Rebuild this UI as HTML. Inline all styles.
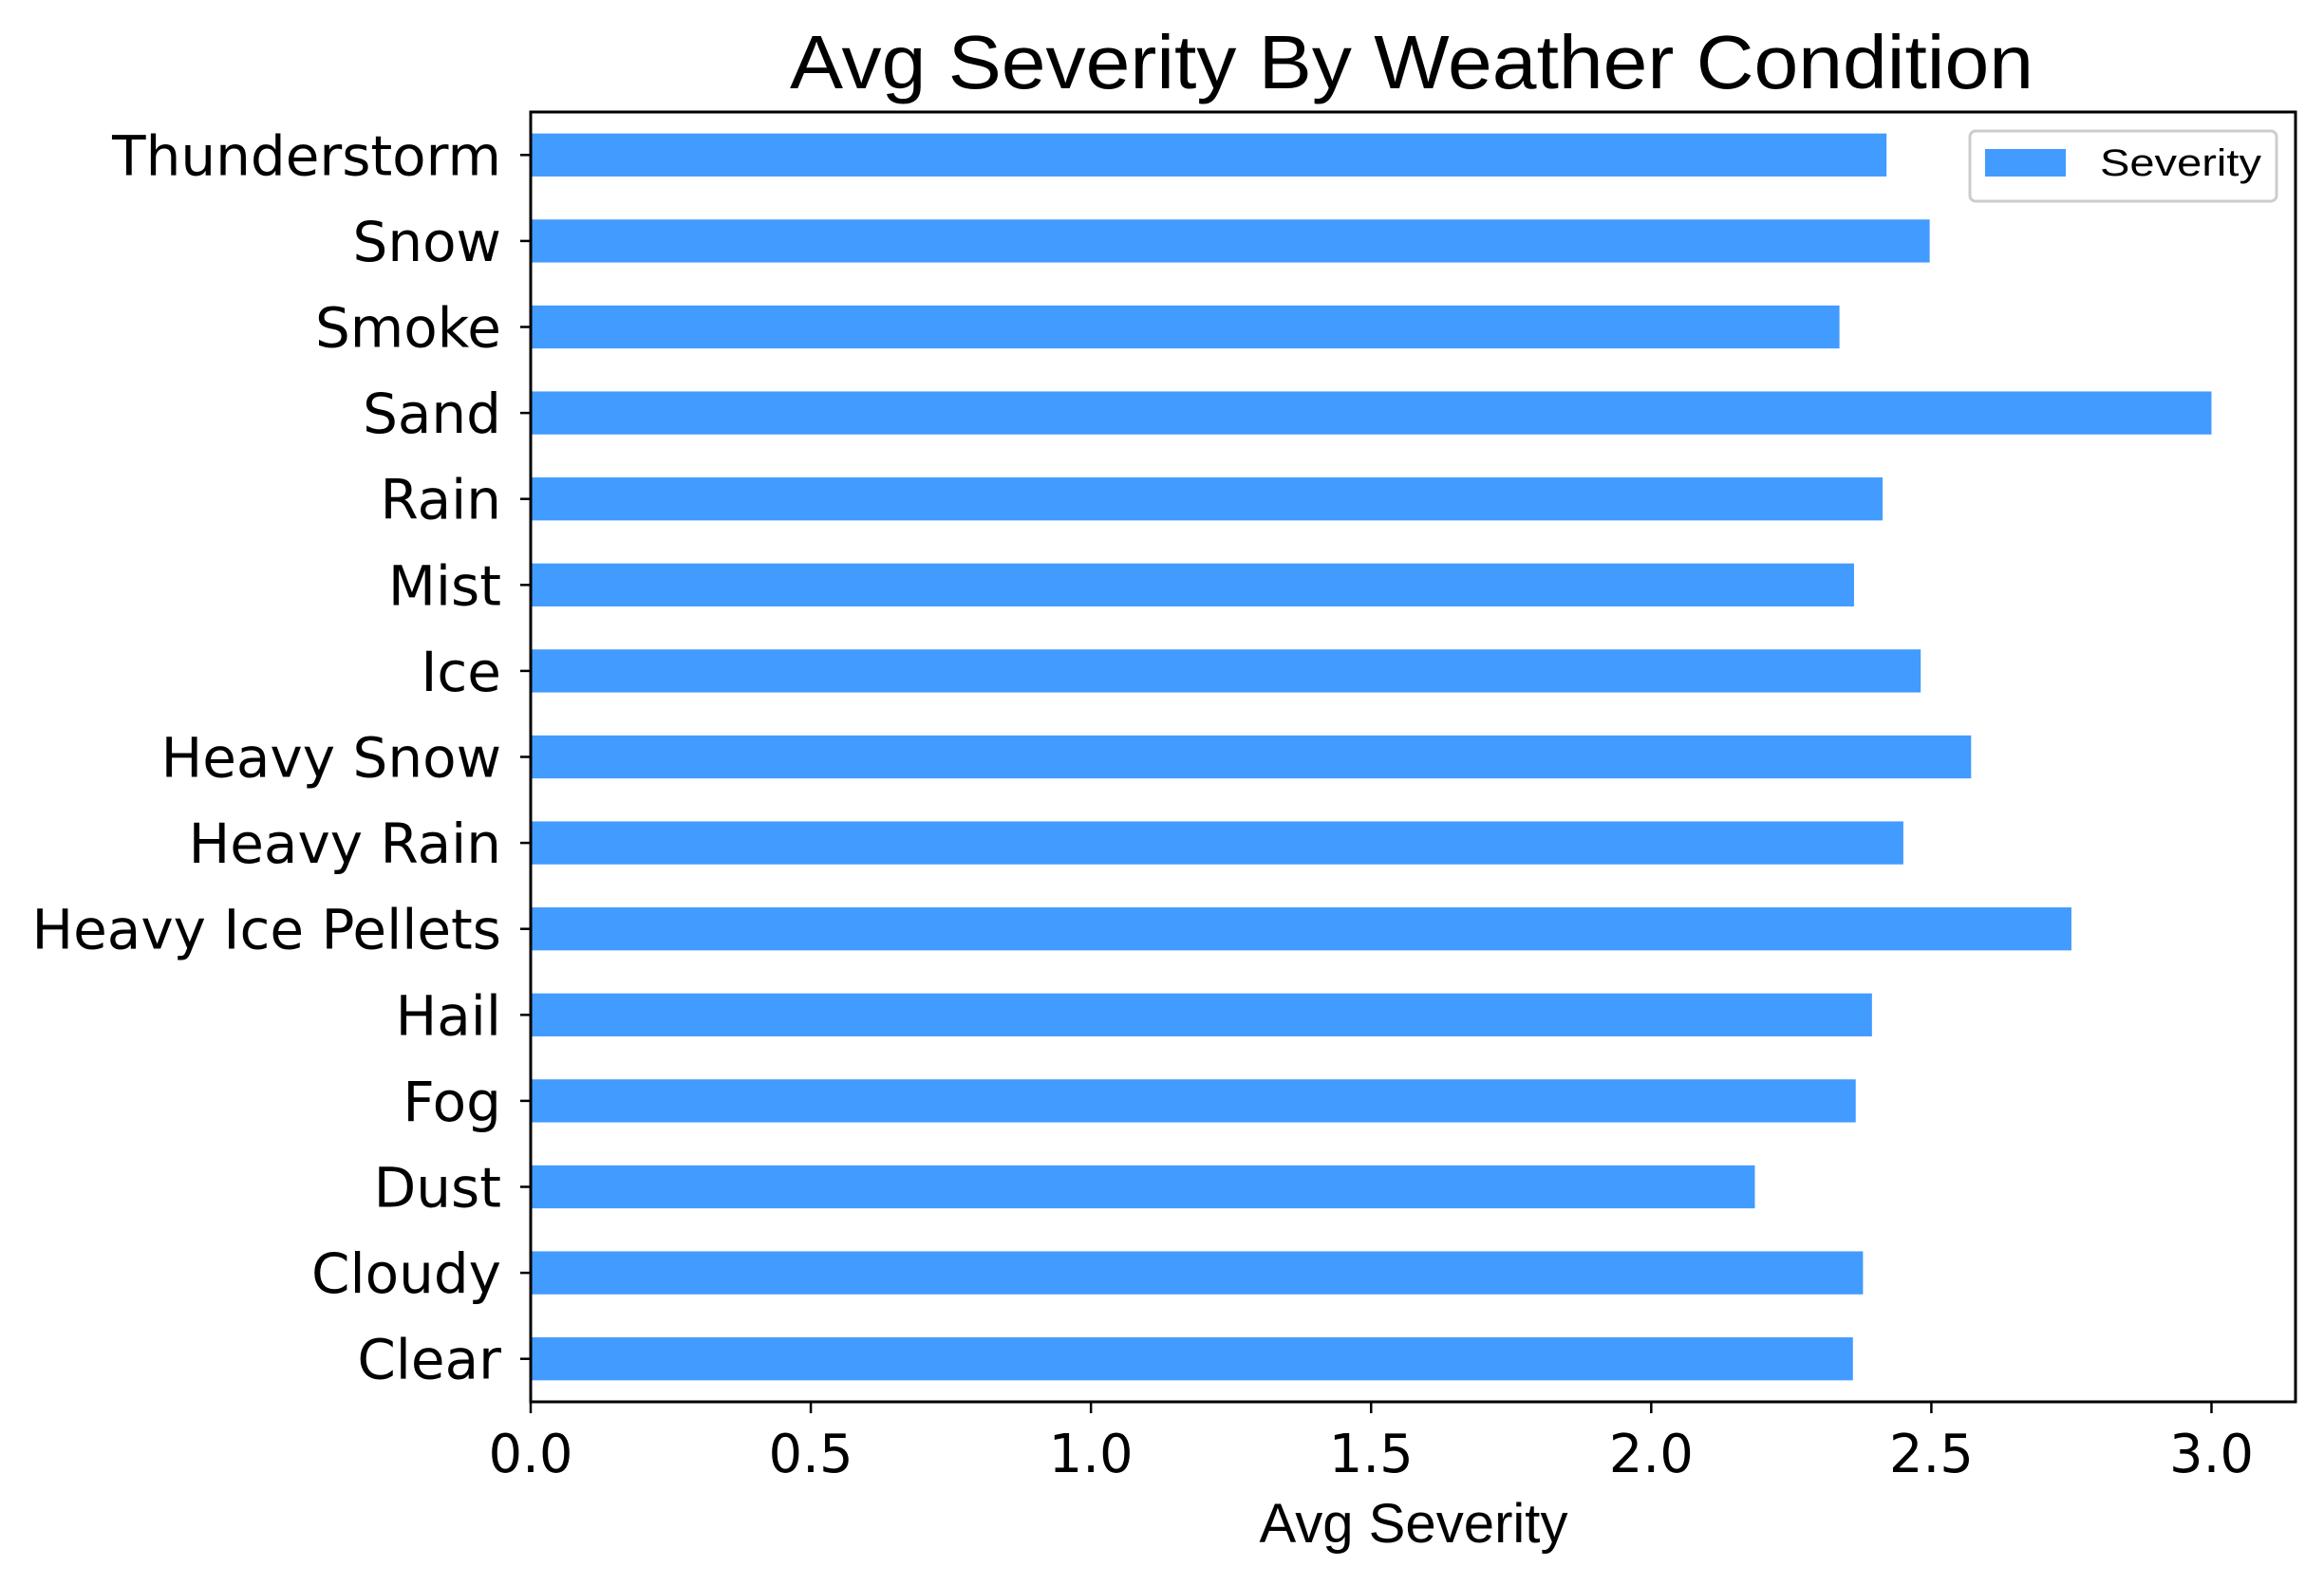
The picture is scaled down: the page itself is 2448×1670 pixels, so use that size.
<!DOCTYPE html>
<html><head><meta charset="utf-8"><style>
html,body{margin:0;padding:0;background:#fff;}
svg{display:block;}
text{font-family:"DejaVu Sans","Liberation Sans",sans-serif;fill:#000;}
</style></head><body>
<svg id="chart" width="2448" height="1670" xmlns="http://www.w3.org/2000/svg">
<text x="1487" y="93" font-size="80" text-anchor="middle" textLength="1310" lengthAdjust="spacingAndGlyphs" style="font-family:'Liberation Sans',sans-serif">Avg Severity By Weather Condition</text>
<g id="bars"></g>
<g id="yticks"></g>
<g id="xticks"></g>
<rect x="559" y="118" width="1859" height="1359" fill="none" stroke="#000" stroke-width="3"/>
<text x="1489" y="1625" font-size="58" text-anchor="middle" textLength="325" lengthAdjust="spacingAndGlyphs" style="font-family:'Liberation Sans',sans-serif">Avg Severity</text>
<g>
<rect x="2075" y="138" width="323" height="74" rx="6" fill="#fff" stroke="#ccc" stroke-width="3"/>
<rect x="2091" y="157" width="85" height="29" fill="#429bfe"/>
<text x="2212" y="185" font-size="40" textLength="170" lengthAdjust="spacingAndGlyphs" style="font-family:'Liberation Sans',sans-serif">Severity</text>
</g>
</svg>
<script>
const categories = ["Thunderstorm","Snow","Smoke","Sand","Rain","Mist","Ice","Heavy Snow","Heavy Rain","Heavy Ice Pellets","Hail","Fog","Dust","Cloudy","Clear"];
const severity = [2.42,2.497,2.336,3.0,2.413,2.362,2.481,2.571,2.45,2.75,2.394,2.365,2.185,2.378,2.36];
const xTicks = [0,0.5,1.0,1.5,2.0,2.5,3.0];
const xTickLabels = ["0.0","0.5","1.0","1.5","2.0","2.5","3.0"];

const NS="http://www.w3.org/2000/svg";
const L=559,R=2418,T=118,B=1477,XMAX=3.15;
const n=categories.length;
function xs(v){return L+(R-L)*v/XMAX;}
function ys(i){
  const pos=n-1-i;
  return B-(B-T)*(pos+0.5)/n;
}
const step=(B-T)/n;
const bars=document.getElementById('bars');
const yt=document.getElementById('yticks');
const xt=document.getElementById('xticks');
categories.forEach((c,i)=>{
  const cy=ys(i);
  const r=document.createElementNS(NS,'rect');
  r.setAttribute('x',xs(0));
  r.setAttribute('y',cy-step*0.25);
  r.setAttribute('width',xs(severity[i])-xs(0));
  r.setAttribute('height',step*0.5);
  r.setAttribute('fill','#429bfe');
  
  
  bars.appendChild(r);
  const tk=document.createElementNS(NS,'line');
  tk.setAttribute('x1',L-11);tk.setAttribute('x2',L);
  tk.setAttribute('y1',cy);tk.setAttribute('y2',cy);
  tk.setAttribute('stroke','#000');tk.setAttribute('stroke-width','2.5');
  
  
  yt.appendChild(tk);
  const t=document.createElementNS(NS,'text');
  t.setAttribute('x',L-31);t.setAttribute('y',cy+21);
  t.setAttribute('font-size','58');t.setAttribute('text-anchor','end');
  t.textContent=c;
  
  
  yt.appendChild(t);
});
xTicks.forEach((v,i)=>{
  const x=xs(v);
  const tk=document.createElementNS(NS,'line');
  tk.setAttribute('x1',x);tk.setAttribute('x2',x);
  tk.setAttribute('y1',B);tk.setAttribute('y2',B+12);
  tk.setAttribute('stroke','#000');tk.setAttribute('stroke-width','2.5');
  
  
  xt.appendChild(tk);
  const t=document.createElementNS(NS,'text');
  t.setAttribute('x',x);t.setAttribute('y',1551);
  t.setAttribute('font-size','56');t.setAttribute('text-anchor','middle');
  t.textContent=xTickLabels[i];
  
  
  xt.appendChild(t);
});
</script>
</body></html>
